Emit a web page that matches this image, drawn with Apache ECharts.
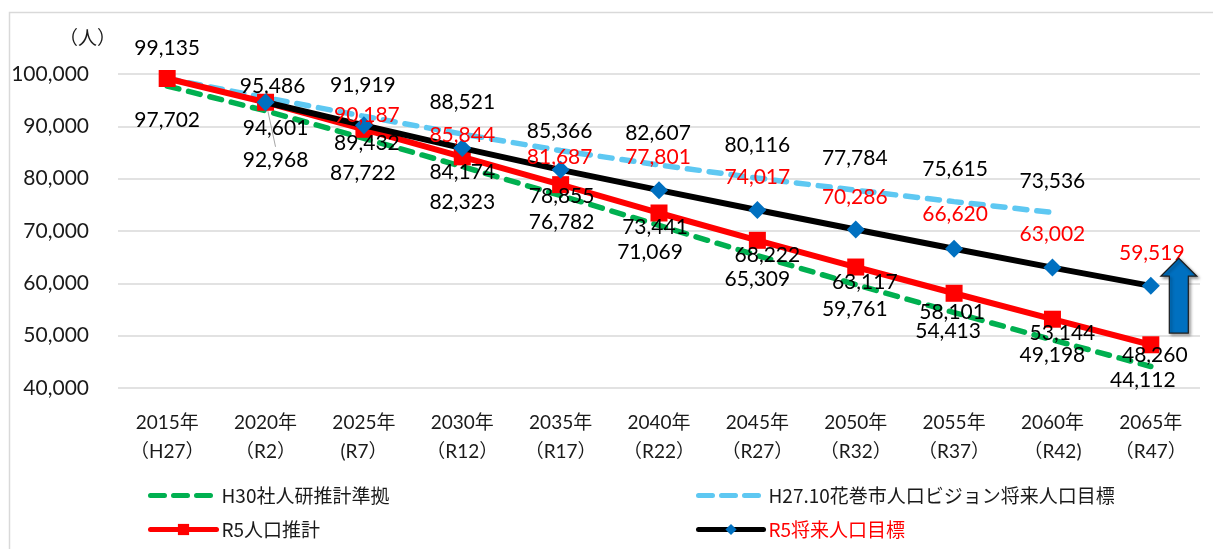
<!DOCTYPE html>
<html>
<head>
<meta charset="utf-8">
<script src="https://cdn.jsdelivr.net/npm/echarts@6/dist/echarts.min.js"></script>
<style>
  html, body { margin: 0; padding: 0; background: #ffffff; }
  #chart { width: 1213px; height: 549px; }
</style>
</head>
<body>
<div id="chart"></div>
<script>
// Population projections for Hanamaki city, 2015–2065
const years = ['2015年', '2020年', '2025年', '2030年', '2035年', '2040年', '2045年', '2050年', '2055年', '2060年', '2065年'];
const eras = ['（H27）', '（R2）', '(R7）', '（R12）', '（R17）', '（R22）', '（R27）', '（R32）', '（R37）', '（R42)', '（R47）'];

const h30Values = [97702, 92968, 87722, 82323, 76782, 71069, 65309, 59761, 54413, 49198, 44112];
const visionH27Values = [99135, 95486, 91919, 88521, 85366, 82607, 80116, 77784, 75615, 73536, null];
const r5EstimateValues = [99135, 94601, 89432, 84174, 78855, 73441, 68222, 63117, 58101, 53144, 48260];
const r5TargetValues = [null, 94601, 90187, 85844, 81687, 77801, 74017, 70286, 66620, 63002, 59519];

const seriesNames = ['H30社人研推計準拠', 'H27.10花巻市人口ビジョン将来人口目標', 'R5人口推計', 'R5将来人口目標'];

// Label nudges [dx, dy] from each point, so crowded labels stay readable
const h30LabelShift = [[0, 34], [10, 49], [-1, 35], [0, 36], [1, 27], [-9, 27], [0, 24], [-1, 25], [-6, 19], [0, 15], [-8, 14]];
const visionH27LabelShift = [null, [7, -11], [-1, -31], [0, -32], [-1, -19], [-1, -32], [0, -33], [-1, -32], [1, -32], [0, -31], null];
const r5EstimateLabelShift = [[0, -30], [10, 26], [3, 14], [0, 15], [1, 12], [-4, 14], [10, 15], [9, 15], [-2, 19], [10, 14], [4, 10]];
const r5TargetLabelShift = [null, null, [3, -10], [0, -13], [-1, -13], [-1, -33], [0, -33], [-1, -32], [1, -34], [0, -33], [1, -33]];

const NUM_FONT = 'Lato, "Noto Sans CJK JP", sans-serif';
const JP_FONT = '"Noto Sans CJK JP", sans-serif';
const CLEAR = 'rgba(0,0,0,0)';
const DASH = [12, 10];

function fmt(v) { return v.toLocaleString('en-US'); }

function withLabels(values, shifts, color) {
  return values.map((v, i) => {
    if (v == null) return null;
    const s = shifts[i];
    if (!s) return { value: v, label: { show: false } };
    return {
      value: v,
      label: {
        show: true,
        position: 'inside',
        align: 'center',
        verticalAlign: 'middle',
        offset: s,
        color: color,
        fontFamily: NUM_FONT,
        fontSize: 21,
        formatter: p => fmt(p.value)
      }
    };
  });
}

function legendAt(name, left, top, width, textColor, dashed) {
  return {
    orient: 'horizontal',
    left: left, top: top,
    itemWidth: width, itemHeight: 14,
    textStyle: { color: textColor, fontFamily: JP_FONT, fontSize: 19 },
    lineStyle: { width: 5, cap: 'round', type: dashed ? [14, 9] : 'solid' },
    data: [name]
  };
}

const chart = echarts.init(document.getElementById('chart'), null, { renderer: 'canvas' });

const frame = {
  id: 'frame',
  type: 'rect',
  left: 7, top: 10,
  shape: { width: 1400, height: 700 },
  style: { fill: 'none', stroke: '#d9d9d9', lineWidth: 1.5 },
  silent: true
};

const option = {
  animation: false,
  backgroundColor: '#ffffff',
  grid: { left: 118, right: 13, top: 74, bottom: 161, containLabel: false },
  xAxis: {
    type: 'category',
    data: years,
    boundaryGap: true,
    axisLine: { show: false },
    axisTick: { show: false },
    splitLine: { show: false },
    axisLabel: {
      interval: 0,
      margin: 20,
      color: '#1a1a1a',
      fontFamily: NUM_FONT,
      fontSize: 19,
      lineHeight: 29,
      formatter: (v, i) => v + '\n' + eras[i]
    }
  },
  yAxis: {
    type: 'value',
    min: 40000,
    max: 100000,
    interval: 10000,
    name: '（人）',
    nameLocation: 'end',
    nameGap: 27,
    nameTextStyle: { color: '#1a1a1a', fontFamily: JP_FONT, fontSize: 19, align: 'right', padding: [0, 2, 0, 0] },
    axisLine: { show: false },
    axisTick: { show: false },
    splitLine: { show: true, lineStyle: { color: '#d9d9d9', width: 1.5 } },
    axisLabel: {
      margin: 29,
      color: '#1a1a1a',
      fontFamily: NUM_FONT,
      fontSize: 21,
      formatter: v => fmt(v)
    }
  },
  legend: [
    legendAt(seriesNames[0], 143, 481, 66, '#1a1a1a', true),
    legendAt(seriesNames[2], 143, 515, 66, '#1a1a1a', false),
    legendAt(seriesNames[1], 691, 481, 65, '#1a1a1a', true),
    legendAt(seriesNames[3], 691, 515, 65, '#ff0000', false)
  ],
  series: [
    {
      name: seriesNames[0],
      type: 'line',
      z: 2,
      data: withLabels(h30Values, h30LabelShift, '#000000'),
      symbol: 'circle',
      symbolSize: 1,
      showAllSymbol: true,
      lineStyle: { color: '#00b050', width: 5.5, type: DASH, cap: 'round' },
      itemStyle: { color: CLEAR }
    },
    {
      name: seriesNames[1],
      type: 'line',
      z: 3,
      data: withLabels(visionH27Values, visionH27LabelShift, '#000000'),
      symbol: 'circle',
      symbolSize: 1,
      showAllSymbol: true,
      lineStyle: { color: '#5ec8f2', width: 5.5, type: DASH, cap: 'round' },
      itemStyle: { color: CLEAR }
    },
    {
      name: seriesNames[2],
      type: 'line',
      z: 4,
      data: withLabels(r5EstimateValues, r5EstimateLabelShift, '#000000'),
      symbol: 'rect',
      symbolSize: 17,
      showAllSymbol: true,
      lineStyle: { color: '#ff0000', width: 6 },
      itemStyle: { color: '#ff0000' }
    },
    {
      name: seriesNames[3],
      type: 'line',
      z: 5,
      data: withLabels(r5TargetValues, r5TargetLabelShift, '#ff0000'),
      symbol: 'diamond',
      symbolSize: 18,
      showAllSymbol: true,
      lineStyle: { color: '#000000', width: 6 },
      itemStyle: { color: '#0070c0' }
    }
  ],
  graphic: { elements: [frame] }
};

chart.setOption(option);

// Upward arrow beside the last target point, placed through the axes
const lastIdx = years.length - 1;
const arrowBase = chart.convertToPixel({ gridIndex: 0 }, [lastIdx, 50500]);
const arrowTip = chart.convertToPixel({ gridIndex: 0 }, [lastIdx, 64800]);
const cx = arrowBase[0] + 28;
const headY = arrowTip[1] + 18;
const arrow = {
  id: 'arrow',
  type: 'polygon',
  z: 100,
  shape: {
    points: [
      [cx, arrowTip[1]],
      [cx + 18, headY],
      [cx + 9.5, headY],
      [cx + 9.5, arrowBase[1]],
      [cx - 9.5, arrowBase[1]],
      [cx - 9.5, headY],
      [cx - 18, headY]
    ]
  },
  style: {
    fill: '#0070c0',
    stroke: '#1f1f1f',
    lineWidth: 1.2,
    shadowBlur: 3,
    shadowOffsetX: 2,
    shadowOffsetY: 2,
    shadowColor: 'rgba(0,0,0,0.35)'
  },
  silent: true
};

// Thin leader from the 2020 H30 point down to its relocated label
const leaderFrom = chart.convertToPixel({ gridIndex: 0 }, [1, h30Values[1]]);
const leader = {
  id: 'leader',
  type: 'line',
  z: 1,
  shape: {
    x1: leaderFrom[0] + 1, y1: leaderFrom[1] - 6,
    x2: leaderFrom[0] + 10, y2: leaderFrom[1] + 36
  },
  style: { stroke: '#a6a6a6', lineWidth: 1 },
  silent: true
};

chart.setOption({ graphic: { elements: [frame, arrow, leader] } });
</script>
</body>
</html>
